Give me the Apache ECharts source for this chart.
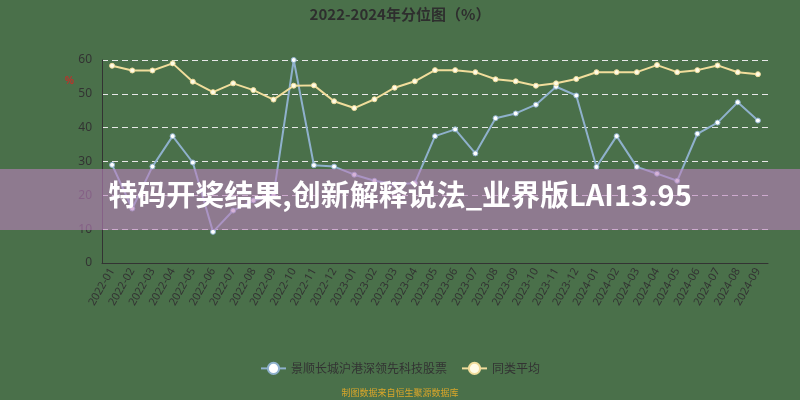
<!DOCTYPE html>
<html>
<head>
<meta charset="utf-8">
<script src="https://cdn.jsdelivr.net/npm/echarts@6/dist/echarts.min.js"></script>
<style>
html,body{margin:0;padding:0;background:#4a704a;}
#c{width:800px;height:400px;}
</style>
</head>
<body>
<div id="c"></div>
<script>
const categories = ['2022-01','2022-02','2022-03','2022-04','2022-05','2022-06','2022-07','2022-08','2022-09','2022-10','2022-11','2022-12',
 '2023-01','2023-02','2023-03','2023-04','2023-05','2023-06','2023-07','2023-08','2023-09','2023-10','2023-11','2023-12',
 '2024-01','2024-02','2024-03','2024-04','2024-05','2024-06','2024-07','2024-08','2024-09'];
const fundValues = [29.0,16.1,28.5,37.5,29.7,9.2,15.5,18.5,20.0,60.0,28.9,28.5,
 26.1,24.3,23.3,23.6,37.5,39.5,32.4,42.8,44.2,46.8,52.1,49.5,
 28.4,37.5,28.4,26.4,24.3,38.2,41.5,47.5,42.1];
const avgValues = [58.3,56.9,56.9,59.0,53.6,50.5,53.1,51.1,48.3,52.4,52.5,47.8,
 45.8,48.4,51.8,53.7,57.0,57.0,56.4,54.3,53.7,52.4,53.1,54.4,
 56.4,56.4,56.4,58.5,56.4,57.0,58.4,56.4,55.8];
const seriesNames = ['景顺长城沪港深领先科技股票','同类平均'];
const titleText = '2022-2024年分位图（%）';
const overlayText = '特码开奖结果,创新解释说法_业界版LAI13.95';
const sourceText = '制图数据来自恒生聚源数据库';

const chart = echarts.init(document.getElementById('c'));
chart.setOption({
  backgroundColor: '#4a704a',
  animation: false,
  title: {
    text: titleText, left: 'center', top: 2,
    textStyle: {color: '#2e2e2e', fontSize: 15, fontWeight: 'bold', fontFamily: 'Noto Sans CJK SC'}
  },
  legend: {
    bottom: 20, left: 'center', itemWidth: 25, itemHeight: 14, itemGap: 14,
    textStyle: {color: '#333', fontSize: 12, fontFamily: 'Noto Sans CJK SC'},
    data: seriesNames
  },
  grid: {left: 102, right: 32, top: 60, bottom: 137},
  xAxis: {
    type: 'category', data: categories, boundaryGap: true,
    axisLine: {lineStyle: {color: '#333'}},
    axisTick: {alignWithLabel: false, interval: 0, lineStyle: {color: '#333'}},
    axisLabel: {interval: 0, rotate: 60, color: '#333', fontSize: 11, margin: 6, fontFamily: 'Noto Sans'}
  },
  yAxis: {
    type: 'value', min: 0, max: 60, interval: 10,
    axisLine: {show: true, lineStyle: {color: '#333'}},
    axisTick: {show: false},
    axisLabel: {color: '#333', fontSize: 12, margin: 10, fontFamily: 'Noto Sans'},
    splitLine: {lineStyle: {color: '#e8e8e8', type: [6, 4], width: 1}}
  },
  series: [
    {
      name: seriesNames[0], type: 'line', data: fundValues,
      symbol: 'circle', symbolSize: 5,
      lineStyle: {color: '#8fb1cc', width: 2},
      itemStyle: {color: '#ffffff', borderColor: '#8fb1cc', borderWidth: 1}
    },
    {
      name: seriesNames[1], type: 'line', data: avgValues,
      symbol: 'circle', symbolSize: 5,
      lineStyle: {color: '#f1dd9c', width: 2},
      itemStyle: {color: '#fffbe6', borderColor: '#f1dd9c', borderWidth: 1}
    }
  ],
  graphic: [
    {type: 'text', left: 65, top: 76, style: {text: '%', fill: '#c0302a', fontSize: 10, fontWeight: 'bold'}},
    {type: 'rect', left: 0, top: 169, z: 100, shape: {width: 800, height: 61}, style: {fill: 'rgba(189,129,190,0.6)'}},
    {type: 'text', left: 'center', top: 180, z: 101,
      style: {text: overlayText, fill: '#ffffff', fontSize: 29, fontWeight: 'bold', fontFamily: 'Noto Sans CJK SC'}},
    {type: 'text', left: 'center', top: 388, z: 101,
      style: {text: sourceText, fill: '#d9a62a', fontSize: 9, fontFamily: 'Noto Sans CJK SC'}}
  ]
});
</script>
</body>
</html>
